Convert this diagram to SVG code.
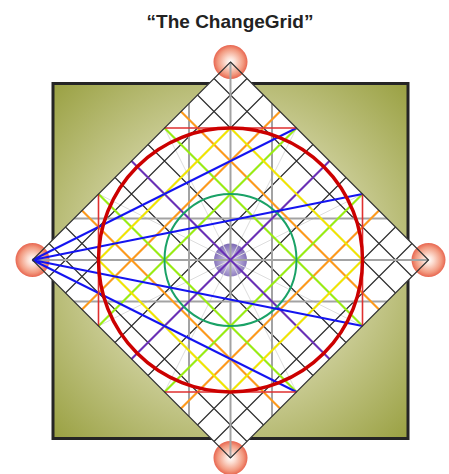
<svg xmlns="http://www.w3.org/2000/svg" width="449" height="474" viewBox="0 0 449 474">
  <defs>
    <radialGradient id="bgGrad" gradientUnits="userSpaceOnUse" cx="230.5" cy="261" r="252">
      <stop offset="0" stop-color="#f4f4e8"/>
      <stop offset="0.55" stop-color="#c9cb93"/>
      <stop offset="1" stop-color="#99a041"/>
    </radialGradient>
    <radialGradient id="redBall" cx="0.5" cy="0.5" r="0.5">
      <stop offset="0" stop-color="#ffffff"/>
      <stop offset="0.3" stop-color="#fcdcd0"/>
      <stop offset="0.75" stop-color="#f29a80"/>
      <stop offset="1" stop-color="#e86650"/>
    </radialGradient>
    <radialGradient id="purpleBall" cx="0.5" cy="0.55" r="0.55">
      <stop offset="0" stop-color="#eeeaf8"/>
      <stop offset="0.45" stop-color="#b6aad8"/>
      <stop offset="1" stop-color="#7d6ab4"/>
    </radialGradient>
    <style>
      .title { font-family: "Liberation Sans", Arial, sans-serif; font-weight: bold; font-size: 19px; fill: #222; }
      .grid { stroke: #2a2a2a; stroke-width: 1.1; fill: none; }
      .faint { stroke: #dddddd; stroke-width: 1; fill: none; }
      .axis { stroke: #a3a3a3; stroke-width: 2; fill: none; }
      .purple { stroke: #6a2fb8; stroke-width: 2; fill: none; }
      .lime { stroke: #99ee11; stroke-width: 2; fill: none; }
      .orange { stroke: #ff9a1a; stroke-width: 2; fill: none; }
      .yellow { stroke: #f2e600; stroke-width: 2; fill: none; }
      .green { stroke: #1aa266; stroke-width: 2; fill: none; }
      .blue { stroke: #1414f0; stroke-width: 2; fill: none; }
      .redthin { stroke: #e03030; stroke-width: 1.6; fill: none; }
      .redthick { stroke: #cc0000; stroke-width: 3.5; fill: none; }
    </style>
  </defs>

  <text class="title" x="230" y="27.5" text-anchor="middle">“The ChangeGrid”</text>

  <g id="frame">
    <rect x="53" y="83.5" width="355" height="355" fill="url(#bgGrad)" stroke="#252525" stroke-width="3"/>
  </g>

  <g id="diamond">
    <polygon points="230.5,62 428.5,260 230.5,458 32.5,260" fill="#ffffff"/>
  </g>

  <g id="node-top"><circle cx="230.5" cy="62" r="17" fill="url(#redBall)"/></g>
  <g id="node-left"><circle cx="32.5" cy="260" r="17" fill="url(#redBall)"/></g>
  <g id="node-right"><circle cx="428.5" cy="260" r="17" fill="url(#redBall)"/></g>
  <g id="node-bottom"><circle cx="230.5" cy="458" r="17" fill="url(#redBall)"/></g>
  <g id="node-center"><circle cx="230.5" cy="260" r="16.5" fill="url(#purpleBall)"/></g>

  <g id="connectors">
    <path class="faint" d="M164.5,128 L296.5,392 M296.5,128 L164.5,392 M362.5,194 L98.5,326 M362.5,326 L98.5,194"/>
    <path class="grid" d="
      M49,276.5 L247,78.5 M65.5,293 L263.5,95 M82,309.5 L280,111.5 M98.5,326 L296.5,128 M115,342.5 L313,144.5
      M131.5,359 L329.5,161 M148,375.5 L346,177.5 M164.5,392 L362.5,194 M181,408.5 L379,210.5 M197.5,425 L395.5,227 M214,441.5 L412,243.5
      M49,243.5 L247,441.5 M65.5,227 L263.5,425 M82,210.5 L280,408.5 M98.5,194 L296.5,392 M115,177.5 L313,375.5
      M131.5,161 L329.5,359 M148,144.5 L346,342.5 M164.5,128 L362.5,326 M181,111.5 L379,309.5 M197.5,95 L395.5,293 M214,78.5 L412,276.5"/>
    <path class="axis" d="M230.5,62 L230.5,458 M189,103.5 L189,416.5 M272,103.5 L272,416.5 M32.5,260 L428.5,260 M74,218.5 L387,218.5 M74,301.5 L387,301.5"/>
    <path class="orange" d="M82,309.5 L280,111.5 M181,408.5 L379,210.5 M82,210.5 L280,408.5 M181,111.5 L379,309.5"/>
    <path class="lime" d="M98.5,326 L296.5,128 M164.5,392 L362.5,194 M98.5,194 L296.5,392 M164.5,128 L362.5,326"/>
    <path class="purple" d="M131.5,359 L329.5,161 M131.5,161 L329.5,359"/>
    <polygon class="yellow" points="230.5,128 362.5,260 230.5,392 98.5,260"/>
    <circle class="green" cx="230.5" cy="260" r="66"/>
    <path class="blue" d="M32.5,260 L296.5,128 M32.5,260 L362.5,194 M32.5,260 L362.5,326 M32.5,260 L296.5,392"/>
    <path class="redthin" d="M164.5,128 L296.5,128 M164.5,392 L296.5,392 M98.5,194 L98.5,326 M362.5,194 L362.5,326"/>
    <circle class="redthick" cx="230.5" cy="260" r="132"/>
    <polygon points="230.5,62 428.5,260 230.5,458 32.5,260" fill="none" stroke="#333" stroke-width="1.2"/>
  </g>
</svg>
